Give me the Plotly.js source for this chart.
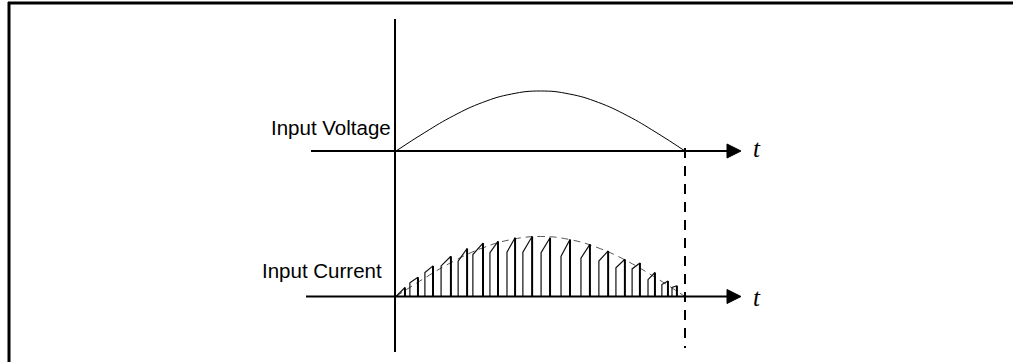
<!DOCTYPE html>
<html>
<head>
<meta charset="utf-8">
<script src="https://cdn.plot.ly/plotly-3.0.1.min.js"></script>
<style>
html,body{margin:0;padding:0;background:#fff;}
#chart{width:1013px;height:362px;}
</style>
</head>
<body>
<div id="chart"></div>
<script>
// time in ms over one half mains cycle
const voltT = [0, 1, 2, 3, 4, 5, 6, 7, 8, 9, 10];
const voltV = [0, 0.31, 0.59, 0.81, 0.95, 1.0, 0.95, 0.81, 0.59, 0.31, 0];

const envT = [0, 1, 2, 3, 4, 5, 6, 7, 8, 9, 10];
const envI = [0, 0.31, 0.59, 0.81, 0.95, 1.0, 0.95, 0.81, 0.59, 0.31, 0];

// switching pulses of the input current
const tOn   = [0.00, 0.48, 1.00, 1.56, 2.15, 2.66, 3.25, 3.84, 4.39, 5.02, 5.71, 6.40, 7.02, 7.61, 8.17, 8.72, 9.20, 9.55];
const tOff  = [0.31, 0.76, 1.28, 1.90, 2.46, 3.01, 3.53, 4.12, 4.71, 5.33, 6.02, 6.71, 7.34, 7.92, 8.44, 8.96, 9.41, 9.72];
const iStart= [0.00, 0.23, 0.40, 0.51, 0.59, 0.70, 0.73, 0.74, 0.74, 0.73, 0.67, 0.64, 0.59, 0.48, 0.46, 0.28, 0.20, 0.15];
const iPeak = [0.15, 0.32, 0.51, 0.67, 0.80, 0.89, 0.92, 0.98, 1.00, 0.98, 0.95, 0.87, 0.76, 0.62, 0.56, 0.40, 0.26, 0.18];

const labels = {voltage: 'Input Voltage', current: 'Input Current', time: 't'};
const halfPeriod = 10;

// build pulse paths: rising part (thin) and falling edge (thick)
const rx = [], ry = [], fx = [], fy = [];
for (let k = 0; k < tOn.length; k++) {
  rx.push(tOn[k], tOn[k], tOff[k], null);
  ry.push(0, iStart[k], iPeak[k], null);
  fx.push(tOff[k], tOff[k], null);
  fy.push(iPeak[k], 0, null);
}

const W = 1013, H = 362;
const X0 = 396, XS = 28.9;           // pixel of t=0, pixels per ms
const VY0 = 151, IY0 = 296.5, YS = 60;
const P = v => v / W;
const Q = v => 1 - v / H;

const traces = [
  {x: voltT, y: voltV, type: 'scatter', mode: 'lines', line: {color: '#000', width: 1, shape: 'spline', smoothing: 1.3}, xaxis: 'x', yaxis: 'y', hoverinfo: 'skip'},
  {x: envT, y: envI, type: 'scatter', mode: 'lines', line: {color: '#555', width: 1, dash: '7px,5px', shape: 'spline', smoothing: 1.3}, xaxis: 'x', yaxis: 'y2', hoverinfo: 'skip'},
  {x: rx, y: ry, type: 'scatter', mode: 'lines', connectgaps: false, line: {color: '#111', width: 1.2}, xaxis: 'x', yaxis: 'y2', hoverinfo: 'skip'},
  {x: fx, y: fy, type: 'scatter', mode: 'lines', connectgaps: false, line: {color: '#000', width: 2}, xaxis: 'x', yaxis: 'y2', hoverinfo: 'skip'}
];

const blk = {color: '#000', width: 2};
const shapes = [
  // frame (top and left edges)
  {type: 'line', xref: 'paper', yref: 'paper', x0: P(8), x1: P(1013), y0: Q(3), y1: Q(3), line: {color: '#000', width: 3}},
  {type: 'line', xref: 'paper', yref: 'paper', x0: P(9), x1: P(9), y0: Q(2), y1: Q(362), line: {color: '#000', width: 3}},
  // vertical axis
  {type: 'line', xref: 'paper', yref: 'paper', x0: P(395), x1: P(395), y0: Q(19), y1: Q(352), line: blk},
  // top time axis
  {type: 'line', xref: 'paper', yref: 'paper', x0: P(311), x1: P(730), y0: Q(VY0), y1: Q(VY0), line: blk},
  {type: 'path', xref: 'paper', yref: 'paper', path: `M ${P(727)} ${Q(VY0-7)} L ${P(741)} ${Q(VY0)} L ${P(727)} ${Q(VY0+7)} Z`, fillcolor: '#000', line: {color: '#000', width: 1}},
  // bottom time axis
  {type: 'line', xref: 'paper', yref: 'paper', x0: P(306), x1: P(730), y0: Q(IY0), y1: Q(IY0), line: blk},
  {type: 'path', xref: 'paper', yref: 'paper', path: `M ${P(727)} ${Q(IY0-7)} L ${P(741)} ${Q(IY0)} L ${P(727)} ${Q(IY0+7)} Z`, fillcolor: '#000', line: {color: '#000', width: 1}},
  // end of half period
  {type: 'line', xref: 'x', yref: 'paper', x0: halfPeriod, x1: halfPeriod, y0: Q(148), y1: Q(348), line: {color: '#000', width: 2, dash: '10px,8px'}}
];

const font = {family: '"Liberation Sans", Arial, sans-serif', size: 20.5, color: '#000'};
const tfont = {family: '"Liberation Serif", "Times New Roman", serif', size: 25, color: '#000', style: 'italic'};
const annotations = [
  {xref: 'paper', yref: 'paper', x: P(393), y: Q(127), xanchor: 'right', yanchor: 'middle', text: labels.voltage, showarrow: false, font: font},
  {xref: 'paper', yref: 'paper', x: P(384), y: Q(270), xanchor: 'right', yanchor: 'middle', text: labels.current, showarrow: false, font: font},
  {xref: 'paper', yref: 'paper', x: P(757), y: Q(148), xanchor: 'center', yanchor: 'middle', text: '<i>' + labels.time + '</i>', showarrow: false, font: tfont},
  {xref: 'paper', yref: 'paper', x: P(757), y: Q(297), xanchor: 'center', yanchor: 'middle', text: '<i>' + labels.time + '</i>', showarrow: false, font: tfont}
];

const layout = {
  width: W, height: H,
  margin: {l: 0, r: 0, t: 0, b: 0, pad: 0},
  paper_bgcolor: '#fff', plot_bgcolor: '#fff',
  showlegend: false,
  xaxis: {range: [-X0 / XS, (W - X0) / XS], visible: false, fixedrange: true},
  yaxis: {range: [(VY0 - H) / YS, VY0 / YS], visible: false, fixedrange: true},
  yaxis2: {range: [(IY0 - H) / YS, IY0 / YS], visible: false, overlaying: 'y', fixedrange: true},
  shapes: shapes,
  annotations: annotations
};

Plotly.newPlot('chart', traces, layout, {staticPlot: true, displayModeBar: false});
</script>
</body>
</html>
